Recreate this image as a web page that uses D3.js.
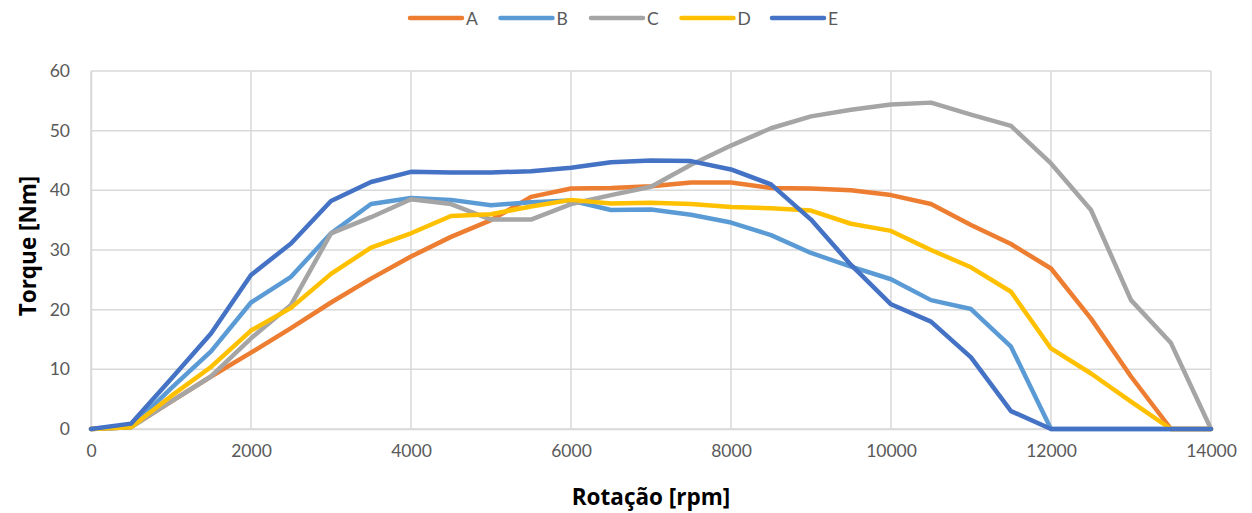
<!DOCTYPE html>
<html>
<head>
<meta charset="utf-8">
<script src="https://cdn.jsdelivr.net/npm/d3@7"></script>
<style>
  body { margin: 0; background: #fff; }
  svg text { font-family: Lato, "Open Sans", sans-serif; }
</style>
</head>
<body>
<div id="chart"></div>
<script>
// rpm steps, every 500 from 0 to 14000
var rpm = [0, 500, 1000, 1500, 2000, 2500, 3000, 3500, 4000, 4500, 5000, 5500, 6000, 6500, 7000,
  7500, 8000, 8500, 9000, 9500, 10000, 10500, 11000, 11500, 12000, 12500, 13000, 13500, 14000];

var seriesNames = ["A", "B", "C", "D", "E"];
var colors = ["#ED7D31", "#5B9BD5", "#A5A5A5", "#FFC000", "#4472C4"];

var torqueA = [0, 0.3, 4.6, 8.8, 12.8, 16.9, 21.2, 25.2, 28.9, 32.2, 35.0, 38.9, 40.3, 40.4, 40.7,
  41.3, 41.3, 40.4, 40.3, 40.0, 39.2, 37.7, 34.2, 31.0, 26.9, 18.5, 8.8, 0, 0];
var torqueB = [0, 0.3, 6.8, 13.0, 21.2, 25.5, 32.8, 37.7, 38.7, 38.4, 37.5, 38.0, 38.3, 36.7, 36.8,
  35.9, 34.6, 32.5, 29.5, 27.2, 25.1, 21.6, 20.1, 13.8, 0, 0, 0, 0, 0];
var torqueC = [0, 0.3, 4.6, 8.8, 15.2, 20.8, 32.8, 35.5, 38.5, 37.7, 35.1, 35.1, 37.7, 39.2, 40.6,
  44.3, 47.5, 50.4, 52.4, 53.5, 54.4, 54.7, 52.7, 50.8, 44.5, 36.7, 21.6, 14.4, 0];
var torqueD = [0, 0.3, 5.5, 10.4, 16.5, 20.3, 26.0, 30.4, 32.8, 35.7, 36.0, 37.3, 38.4, 37.8, 37.9,
  37.7, 37.2, 37.0, 36.6, 34.4, 33.2, 30.0, 27.1, 23.0, 13.5, 9.3, 4.6, 0, 0];
var torqueE = [0, 0.9, 8.4, 16.0, 25.8, 31.1, 38.2, 41.4, 43.1, 43.0, 43.0, 43.2, 43.8, 44.7, 45.0,
  44.9, 43.5, 41.0, 35.1, 27.5, 20.9, 18.0, 12.0, 3.0, 0, 0, 0, 0, 0];

var xTicks = [0, 2000, 4000, 6000, 8000, 10000, 12000, 14000];
var yTicks = [0, 10, 20, 30, 40, 50, 60];

var allSeries = [torqueA, torqueB, torqueC, torqueD, torqueE];

var W = 1252, H = 513;
var margin = { top: 71, right: 41, bottom: 84, left: 91 };
var width = W - margin.left - margin.right;
var height = H - margin.top - margin.bottom;

var svg = d3.select("#chart").append("svg")
  .attr("width", W)
  .attr("height", H);

var chart = svg.append("g")
  .attr("transform", "translate(" + margin.left + "," + margin.top + ")");

var x = d3.scaleLinear().domain([0, 14000]).range([0, width]);
var y = d3.scaleLinear().domain([0, 60]).range([height, 0]);

// gridlines
chart.append("g")
  .selectAll("line")
  .data(yTicks)
  .enter()
  .append("line")
  .attr("x1", 0).attr("x2", width)
  .attr("y1", d => y(d)).attr("y2", d => y(d))
  .attr("stroke", "#d9d9d9").attr("stroke-width", 1.5);

chart.append("g")
  .selectAll("line")
  .data(xTicks)
  .enter()
  .append("line")
  .attr("x1", d => x(d)).attr("x2", d => x(d))
  .attr("y1", 0).attr("y2", height)
  .attr("stroke", "#d9d9d9").attr("stroke-width", 1.5);

// axes (labels only)
var xAxis = chart.append("g")
  .attr("transform", "translate(0," + height + ")")
  .call(d3.axisBottom(x).tickValues(xTicks).tickFormat(d3.format("d")).tickSize(0).tickPadding(16));
var yAxis = chart.append("g")
  .call(d3.axisLeft(y).tickValues(yTicks).tickSize(0).tickPadding(21));

[xAxis, yAxis].forEach(function(a) {
  a.select(".domain").attr("stroke", "#d9d9d9").attr("stroke-width", 1.5);
  a.selectAll("text")
    .attr("fill", "#595959")
    .style("font-size", "17.5px");
});

// lines
var line = d3.line()
  .x((d, i) => x(rpm[i]))
  .y(d => y(d));

chart.selectAll(".series")
  .data(allSeries)
  .enter()
  .append("path")
  .attr("class", "series")
  .attr("d", d => line(d))
  .attr("fill", "none")
  .attr("stroke", (d, i) => colors[i])
  .attr("stroke-width", 4.5)
  .attr("stroke-linejoin", "round")
  .attr("stroke-linecap", "round");

// axis titles
svg.append("text")
  .attr("x", 651)
  .attr("y", 505)
  .attr("text-anchor", "middle")
  .attr("font-weight", "bold")
  .attr("fill", "#000")
  .style("font-family", "'Open Sans', sans-serif")
  .style("font-size", "22.5px")
  .text("Rotação [rpm]");

svg.append("text")
  .attr("transform", "translate(36," + 246 + ") rotate(-90)")
  .attr("text-anchor", "middle")
  .attr("font-weight", "bold")
  .attr("fill", "#000")
  .style("font-family", "'Open Sans', sans-serif")
  .style("font-size", "22.5px")
  .text("Torque [Nm]");

// legend
var legend = svg.append("g")
  .attr("transform", "translate(408,18)");

var item = legend.selectAll(".item")
  .data(seriesNames)
  .enter()
  .append("g")
  .attr("class", "item")
  .attr("transform", (d, i) => "translate(" + (i * 90.5) + ",0)");

item.append("line")
  .attr("x1", 2).attr("x2", 54)
  .attr("y1", 0).attr("y2", 0)
  .attr("stroke", (d, i) => colors[i])
  .attr("stroke-width", 4.5)
  .attr("stroke-linecap", "round");

item.append("text")
  .attr("x", 58)
  .attr("y", 6.5)
  .attr("fill", "#595959")
  .style("font-size", "17.5px")
  .text(d => d);
</script>
</body>
</html>
